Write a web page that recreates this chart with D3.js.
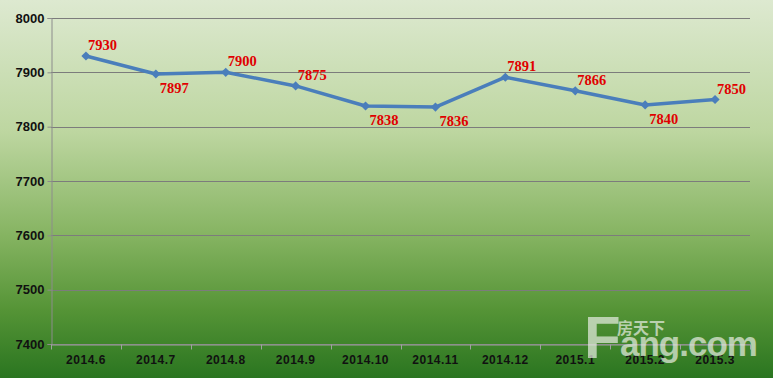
<!DOCTYPE html>
<html>
<head>
<meta charset="utf-8">
<script src="https://cdn.jsdelivr.net/npm/d3@7"></script>
<style>
  body { margin: 0; }
  svg { display: block; }
</style>
</head>
<body>
<script>
const months = ["2014.6", "2014.7", "2014.8", "2014.9", "2014.10", "2014.11", "2014.12", "2015.1", "2015.2", "2015.3"];
const prices = [7930, 7897, 7900, 7875, 7838, 7836, 7891, 7866, 7840, 7850];
const yTicks = [7400, 7500, 7600, 7700, 7800, 7900, 8000];
// where the red value label sits, per point
const labelSide = ["up", "down", "up", "up", "down", "down", "up", "up", "down", "up"];

const W = 773, H = 378;
const margin = {top: 18, right: 23, bottom: 34, left: 51};

const svg = d3.select("body").append("svg")
  .attr("width", W)
  .attr("height", H);

// background gradient
const defs = svg.append("defs");
const grad = defs.append("linearGradient")
  .attr("id", "bg")
  .attr("x1", 0).attr("y1", 0).attr("x2", 0).attr("y2", 1);
grad.append("stop").attr("offset", "0%").attr("stop-color", "#dde9d0");
grad.append("stop").attr("offset", "35%").attr("stop-color", "#bdd6a0");
grad.append("stop").attr("offset", "62%").attr("stop-color", "#86b462");
grad.append("stop").attr("offset", "82%").attr("stop-color", "#559436");
grad.append("stop").attr("offset", "100%").attr("stop-color", "#2a7520");
svg.append("rect").attr("width", W).attr("height", H).attr("fill", "url(#bg)");

const x = d3.scaleBand()
  .domain(months)
  .range([margin.left, W - margin.right]);
const y = d3.scaleLinear()
  .domain([7400, 8000])
  .range([H - margin.bottom, margin.top]);

// gridlines
svg.append("g")
  .selectAll("line")
  .data(yTicks)
  .enter().append("line")
  .attr("x1", margin.left)
  .attr("x2", W - margin.right)
  .attr("y1", d => Math.round(y(d)) + 0.5)
  .attr("y2", d => Math.round(y(d)) + 0.5)
  .attr("stroke", "#7c7c7c")
  .attr("stroke-width", 1);

// y axis
const yAxis = svg.append("g")
  .attr("transform", "translate(" + (margin.left + 0.5) + ",0)")
  .call(d3.axisLeft(y).tickValues(yTicks).tickSize(4).tickPadding(3).tickFormat(d3.format("d")));
yAxis.select(".domain").attr("stroke", "#8c8c8c");
yAxis.selectAll(".tick line").attr("stroke", "#8c8c8c");
yAxis.selectAll("text")
  .attr("font-family", "Liberation Sans")
  .attr("font-weight", "bold")
  .attr("font-size", 13)
  .attr("fill", "#111");

// x axis
const xAxis = svg.append("g")
  .attr("transform", "translate(0," + (Math.round(y(7400)) + 0.5) + ")")
  .call(d3.axisBottom(x).tickSize(0).tickPadding(9));
xAxis.select(".domain").attr("stroke", "#a0a0a0");
xAxis.selectAll("text")
  .attr("font-family", "Liberation Sans")
  .attr("font-weight", "bold")
  .attr("font-size", 12)
  .attr("letter-spacing", 0.5)
  .attr("fill", "#111")
  .attr("dy", "0.9em");
xAxis.selectAll(".sep")
  .data(months)
  .enter().append("line")
  .attr("class", "sep")
  .attr("x1", d => Math.round(x(d) + x.bandwidth()) + 0.5)
  .attr("x2", d => Math.round(x(d) + x.bandwidth()) + 0.5)
  .attr("y1", 0).attr("y2", 5)
  .attr("stroke", "#a0a0a0");
xAxis.append("line")
  .attr("x1", margin.left + 0.5).attr("x2", margin.left + 0.5)
  .attr("y1", 0).attr("y2", 5)
  .attr("stroke", "#a0a0a0");

// watermark
const wm = svg.append("g").attr("opacity", 0.72);
wm.append("text")
  .attr("x", 584).attr("y", 358)
  .attr("font-family", "Liberation Sans")
  .attr("font-weight", "bold")
  .attr("font-size", 60)
  .attr("fill", "#e4ebdf")
  .text("F");
wm.append("text")
  .attr("x", 620).attr("y", 356)
  .attr("font-family", "Liberation Sans")
  .attr("font-weight", "bold")
  .attr("font-size", 35)
  .attr("letter-spacing", -1)
  .attr("fill", "#e4ebdf")
  .text("ang.com");
wm.append("text")
  .attr("x", 617).attr("y", 334)
  .attr("font-family", "Noto Sans CJK SC")
  .attr("font-weight", "bold")
  .attr("font-size", 16)
  .attr("fill", "#e4ebdf")
  .text("房天下");

// line
const cx = d => x(d.m) + x.bandwidth() / 2;
const pts = months.map((m, i) => ({m: m, v: prices[i], side: labelSide[i]}));

svg.append("path")
  .datum(pts)
  .attr("fill", "none")
  .attr("stroke", "#4a7ebb")
  .attr("stroke-width", 3.5)
  .attr("stroke-linejoin", "round")
  .attr("d", d3.line().x(cx).y(d => y(d.v)));

svg.selectAll(".mark")
  .data(pts)
  .enter().append("path")
  .attr("class", "mark")
  .attr("d", d3.symbol().type(d3.symbolSquare).size(42))
  .attr("transform", d => "translate(" + cx(d) + "," + y(d.v) + ") rotate(45)")
  .attr("fill", "#4a7ebb");

svg.selectAll(".lbl")
  .data(pts)
  .enter().append("text")
  .attr("class", "lbl")
  .attr("x", d => d.side == "up" ? cx(d) + 2 : cx(d) + 4)
  .attr("y", d => d.side == "up" ? y(d.v) - 6 : y(d.v) + 19)
  .attr("font-family", "Liberation Serif")
  .attr("font-weight", "bold")
  .attr("font-size", 14.5)
  .attr("fill", "#e00000")
  .text(d => d.v);
</script>
</body>
</html>
